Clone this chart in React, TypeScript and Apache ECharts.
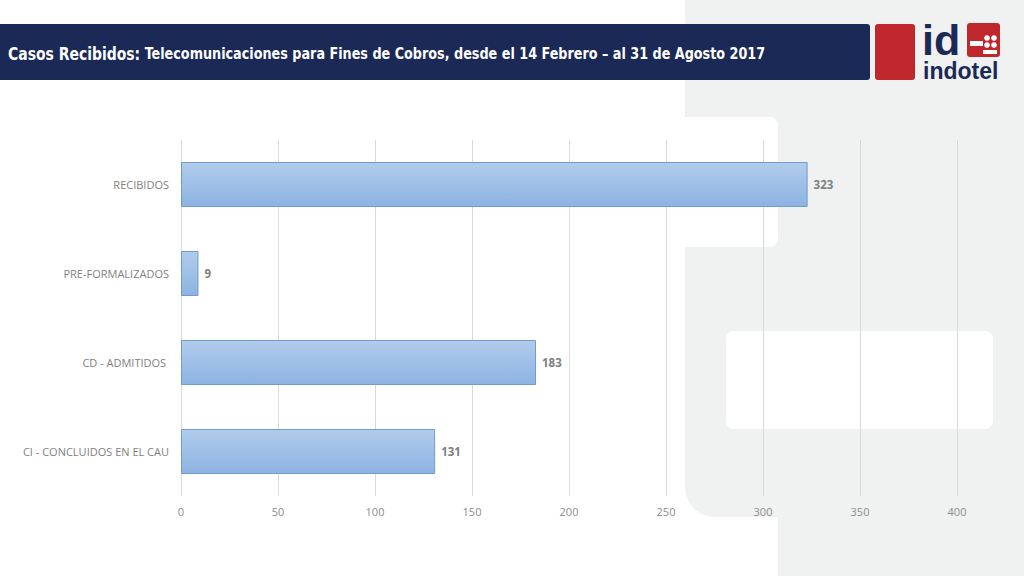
import React, { useEffect, useRef } from "react";
import * as echarts from "echarts";

const categories = ["RECIBIDOS", "PRE-FORMALIZADOS", "CD - ADMITIDOS ", "CI - CONCLUIDOS EN EL CAU"];
const values = [323, 9, 183, 131];
const axisMin = 0;
const axisMax = 400;
const axisInterval = 50;
const titleLead = "Casos Recibidos:";
const titleRest = " Telecomunicaciones para Fines de Cobros, desde el 14 Febrero – al 31 de Agosto 2017";

const GRAY = "#f0f1f1";
const NAVY = "#1b2956";
const RED = "#c0272d";

export default function App() {
  const ref = useRef<HTMLDivElement>(null);
  useEffect(() => {
    if (!ref.current) return;
    const chart = echarts.init(ref.current, undefined, { renderer: "svg" });
    chart.setOption({
      animation: false,
      backgroundColor: "#ffffff",
      grid: { left: 181, right: 67, top: 140, bottom: 80, containLabel: false },
      xAxis: {
        type: "value",
        min: axisMin,
        max: axisMax,
        interval: axisInterval,
        axisLine: { show: false },
        axisTick: { show: false },
        axisLabel: { color: "#8c8c8c", fontSize: 11, fontFamily: "Open Sans", margin: 10 },
        splitLine: { lineStyle: { color: "#d9d9d9", width: 1 } },
      },
      yAxis: {
        type: "category",
        inverse: true,
        data: categories,
        axisLine: { show: false },
        axisTick: { show: false },
        axisLabel: { color: "#7f7f7f", fontSize: 11, fontFamily: "Open Sans", margin: 12 },
        splitLine: { show: false },
      },
      series: [
        {
          type: "bar",
          data: values,
          barWidth: 45,
          itemStyle: {
            color: new echarts.graphic.LinearGradient(0, 0, 0, 1, [
              { offset: 0, color: "#b1cceb" },
              { offset: 1, color: "#8db3e2" },
            ]),
            borderColor: "#6f9bd3",
            borderWidth: 1,
          },
          label: {
            show: true,
            position: "right",
            distance: 6,
            color: "#7f7f7f",
            fontWeight: "bold",
            fontSize: 11.5,
            fontFamily: "Open Sans",
          },
        },
      ],
      graphic: {
        elements: [
          { type: "rect", z: -100, silent: true, shape: { x: 685, y: 0, width: 339, height: 517, r: [0, 0, 0, 30] }, style: { fill: GRAY } },
          { type: "rect", z: -100, silent: true, shape: { x: 778, y: 400, width: 246, height: 176 }, style: { fill: GRAY } },
          { type: "rect", z: -99, silent: true, shape: { x: 600, y: 117, width: 178, height: 130, r: [0, 8, 8, 0] }, style: { fill: "#ffffff" } },
          { type: "rect", z: -99, silent: true, shape: { x: 726, y: 331, width: 267, height: 98, r: 8 }, style: { fill: "#ffffff" } },
          { type: "rect", z: 100, shape: { x: 0, y: 24, width: 870, height: 56, r: [0, 3, 3, 0] }, style: { fill: NAVY } },
          {
            type: "text",
            z: 101,
            x: 8,
            y: 54,
            scaleX: 0.862,
            style: {
              text: "{a|" + titleLead + "}{b|" + titleRest + "}",
              verticalAlign: "middle",
              rich: {
                a: { fill: "#ffffff", fontSize: 18, fontWeight: "bold", fontFamily: "DejaVu Sans Condensed" },
                b: { fill: "#ffffff", fontSize: 16.5, fontWeight: "bold", fontFamily: "DejaVu Sans Condensed" },
              },
            },
          },
          { type: "rect", z: 100, shape: { x: 875, y: 24, width: 40, height: 56, r: 3 }, style: { fill: RED } },
          { type: "rect", z: 100, shape: { x: 967, y: 23, width: 33, height: 34, r: 3 }, style: { fill: RED } },
          { type: "rect", z: 101, shape: { x: 970, y: 41, width: 13, height: 5 }, style: { fill: "#ffffff" } },
          { type: "circle", z: 101, shape: { cx: 987, cy: 38, r: 2.8 }, style: { fill: "#ffffff" } },
          { type: "circle", z: 101, shape: { cx: 994, cy: 38, r: 2.8 }, style: { fill: "#ffffff" } },
          { type: "circle", z: 101, shape: { cx: 987, cy: 45, r: 2.8 }, style: { fill: "#ffffff" } },
          { type: "circle", z: 101, shape: { cx: 994, cy: 45, r: 2.8 }, style: { fill: "#ffffff" } },
          { type: "rect", z: 101, shape: { x: 983, y: 50, width: 14, height: 4 }, style: { fill: "#ffffff" } },
          {
            type: "text",
            z: 100,
            x: 922,
            y: 56.5,
            scaleX: 1.433,
            scaleY: 1.433,
            style: { text: "id", fill: NAVY, fontSize: 30, lineHeight: 23.7, fontWeight: 900, fontFamily: "Liberation Sans", verticalAlign: "bottom" },
          },
          {
            type: "text",
            z: 100,
            x: 923,
            y: 82,
            style: { text: "indotel", fill: NAVY, fontSize: 23, lineHeight: 22, fontWeight: "bold", fontFamily: "Liberation Sans", verticalAlign: "bottom" },
          },
        ],
      },
    });
    return () => chart.dispose();
  }, []);
  return <div ref={ref} style={{ position: "fixed", left: 0, top: 0, width: 1024, height: 576 }} />;
}
